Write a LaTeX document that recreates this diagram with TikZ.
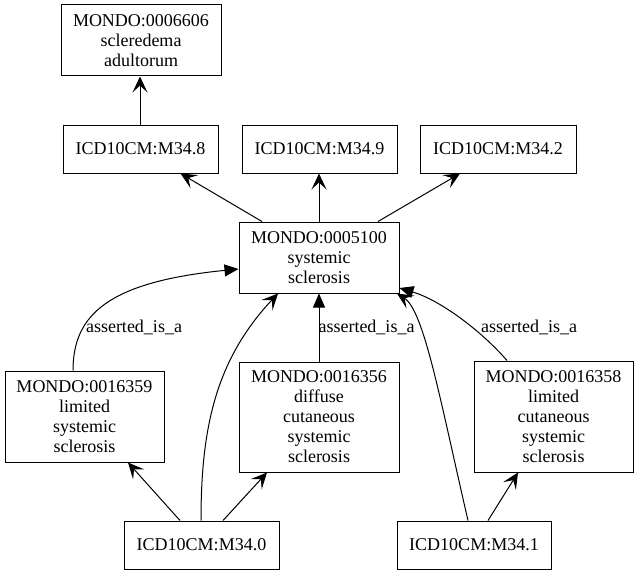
\documentclass[tikz,border=0pt]{standalone}
\usepackage{fontspec}
\setmainfont{Liberation Serif}
\usetikzlibrary{arrows.meta}
\tikzset{
  box/.style={draw, line width=1pt, inner sep=0pt, align=center, font=\fontsize{18}{20}\selectfont},
  vedge/.style={draw, line width=1pt, -{Stealth[length=16pt,width=15pt,inset=7pt]}},
  aedge/.style={draw, line width=1pt, -{Triangle[length=14pt,width=12pt]}},
  lbl/.style={font=\fontsize{18}{20}\selectfont, inner sep=0pt}
}
\begin{document}
\begin{tikzpicture}[x=1pt,y=-1pt]
\useasboundingbox (0,0) rectangle (639,575);
% nodes
\node[box, minimum width=160pt, minimum height=71pt] (A) at (141,40.5) {MONDO:0006606\\scleredema\\adultorum};
\node[box, minimum width=155pt, minimum height=48pt] (B) at (140.5,149) {ICD10CM:M34.8};
\node[box, minimum width=155pt, minimum height=48pt] (C) at (319.5,149) {ICD10CM:M34.9};
\node[box, minimum width=156pt, minimum height=48pt] (D) at (498,149) {ICD10CM:M34.2};
\node[box, minimum width=160pt, minimum height=71pt] (E) at (319,257.5) {MONDO:0005100\\systemic\\sclerosis};
\node[box, minimum width=159pt, minimum height=91pt] (F) at (84.5,416.5) {MONDO:0016359\\limited\\systemic\\sclerosis};
\node[box, minimum width=160pt, minimum height=110pt] (G) at (319,417) {MONDO:0016356\\diffuse\\cutaneous\\systemic\\sclerosis};
\node[box, minimum width=159pt, minimum height=111pt] (H) at (553.5,416.5) {MONDO:0016358\\limited\\cutaneous\\systemic\\sclerosis};
\node[box, minimum width=155pt, minimum height=48pt] (I) at (201.5,545) {ICD10CM:M34.0};
\node[box, minimum width=154pt, minimum height=48pt] (J) at (474,545) {ICD10CM:M34.1};
% top edges
\path[vedge] ([xshift=-0.5pt]B.north) -- ([xshift=-1pt]A.south);
\path[vedge] ([xshift=-57pt]E.north) -- ([xshift=40pt]B.south);
\path[vedge] ([xshift=0pt]E.north) -- ([xshift=-0.5pt]C.south);
\path[vedge] ([xshift=59pt]E.north) -- ([xshift=-38pt]D.south);
% asserted_is_a edges
\path[aedge] ([xshift=-11.5pt]F.north) .. controls +(0,-56) and +(-130,13) .. ([yshift=-11.5pt]E.west);
\node[lbl] (L1) at (134,327) {asserted\_is\_a};
\path[aedge] (G.north) -- (E.south);
\node[lbl] (L2) at (366.5,327) {asserted\_is\_a};
\path[aedge] ([xshift=-46.5pt]H.north) .. controls +(-27,-31) and +(40,12) .. ([yshift=-30.5pt]E.east);
\node[lbl] (L3) at (529,327) {asserted\_is\_a};
% ICD bottom edges
\path[vedge] ([xshift=-0.5pt]I.north) .. controls +(0,-91) and +(-63,67) .. ([xshift=-41pt]E.south);
\path[vedge] ([xshift=-21.5pt]I.north) -- ([xshift=43.5pt]F.south);
\path[vedge] ([xshift=21.5pt]I.north) -- ([xshift=-52pt]G.south);
\path[vedge] ([xshift=-6pt]J.north) .. controls +(-28,-121) and +(27,17) .. ([xshift=78pt]E.south);
\path[vedge] ([xshift=14pt]J.north) -- ([xshift=-35.5pt]H.south);
\end{tikzpicture}
\end{document}
